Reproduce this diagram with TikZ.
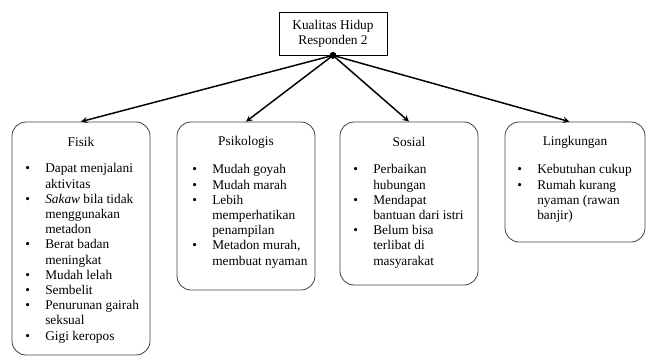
\documentclass[tikz,border=0pt]{standalone}
\usepackage{fontspec}
\setmainfont{Liberation Serif}
\usetikzlibrary{calc}

\newcommand{\butir}[1]{\textbullet & #1\\}
\newenvironment{daftar}[1]{\begin{tabular}{@{}p{15pt}@{}p{#1}@{}}}{\end{tabular}}

\tikzset{
  aspek/.style={draw=black!75, line width=0.6pt, rounded corners=10.5pt, minimum width=103.5pt, inner sep=0pt},
  judul/.style={font=\fontsize{10}{11.4}\selectfont, inner sep=0pt},
  isi/.style={font=\fontsize{10}{11.4}\selectfont, inner sep=0pt, anchor=north west},
  panah/.style={line width=1.1pt, -stealth}
}

\begin{document}
\begin{tikzpicture}[x=0.75pt, y=-0.75pt]
        \useasboundingbox (0,0) rectangle (648,356);

        % induk
        \node[draw, line width=0.6pt, minimum width=81pt, minimum height=32.25pt, align=center, judul] (induk) at (333,33.5) {Kualitas Hidup\\Responden 2};
        \fill (induk.south) coordinate (pusat) circle (2.6pt);

        % kotak aspek
        \node[aspek, minimum height=174.75pt] (fisik) at (81,238.5) {};
        \node[aspek, minimum height=126pt] (psiko) at (246,206) {};
        \node[aspek, minimum height=122.25pt] (sosial) at (409,203.5) {};
        \node[aspek, minimum width=105pt, minimum height=90pt] (lingk) at (575,182) {};

        % judul aspek
        \node[judul] (tfisik) at (81,142) {Fisik};
        \node[judul] (tpsiko) at (246,142) {Psikologis};
        \node[judul] (tsosial) at (409,142) {Sosial};
        \node[judul] (tlingk) at (575,142) {Lingkungan};

        % isi aspek
        \node[isi] (ifisik) at (25,162) {\begin{daftar}{85pt}
            \butir{Dapat menjalani\newline aktivitas}
            \butir{\textit{Sakaw} bila tidak\newline menggunakan\newline metadon}
            \butir{Berat badan\newline meningkat}
            \butir{Mudah lelah}
            \butir{Sembelit}
            \butir{Penurunan gairah\newline seksual}
            \butir{Gigi keropos}
        \end{daftar}};
        \node[isi] (ipsiko) at (192,163) {\begin{daftar}{85pt}
            \butir{Mudah goyah}
            \butir{Mudah marah}
            \butir{Lebih\newline memperhatikan\newline penampilan}
            \butir{Metadon murah,\newline membuat nyaman}
        \end{daftar}};
        \node[isi] (isosial) at (353,163) {\begin{daftar}{85pt}
            \butir{Perbaikan\newline hubungan}
            \butir{Mendapat\newline bantuan dari istri}
            \butir{Belum bisa\newline terlibat di\newline masyarakat}
        \end{daftar}};
        \node[isi] (ilingk) at (517,163) {\begin{daftar}{85pt}
            \butir{Kebutuhan cukup}
            \butir{Rumah kurang\newline nyaman (rawan\newline banjir)}
        \end{daftar}};

        % panah
        \draw[panah] (pusat) -- (fisik.north);
        \draw[panah] (pusat) -- (psiko.north);
        \draw[panah] (pusat) -- (sosial.north);
        \draw[panah] (pusat) -- ($(lingk.north west)!0.46!(lingk.north east)$);
\end{tikzpicture}
\end{document}
